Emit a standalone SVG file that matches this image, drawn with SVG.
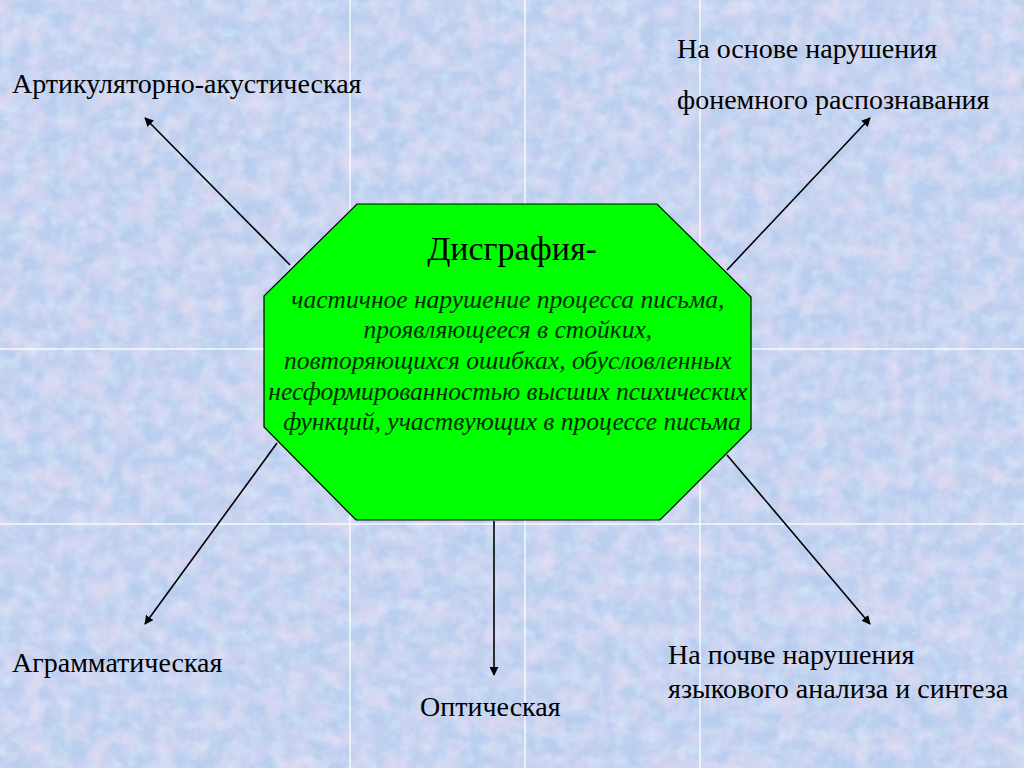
<svg xmlns="http://www.w3.org/2000/svg" width="1024" height="768" viewBox="0 0 1024 768">
<defs>
<style>
.lbl{font-family:"Liberation Serif","Times New Roman",serif;font-size:28px;fill:#000}
.title{font-family:"Liberation Serif","Times New Roman",serif;font-size:34px;fill:#000}
.def{font-family:"Liberation Serif","Times New Roman",serif;font-size:25.5px;font-style:italic;fill:#002a00}
.conn line{stroke:#000;stroke-width:1.6;marker-end:url(#ah)}
.tile{stroke:#ffffff;stroke-width:1.5;opacity:0.85}
</style>
<marker id="ah" viewBox="0 0 10 10" refX="9" refY="5" markerWidth="9" markerHeight="9" markerUnits="userSpaceOnUse" orient="auto">
<path d="M0,0 L10,5 L0,10 Z" fill="#000"/>
</marker>
<filter id="tex" x="0" y="0" width="100%" height="100%">
<feTurbulence type="fractalNoise" baseFrequency="0.045" numOctaves="5" seed="11" result="n"/>
<feColorMatrix in="n" type="matrix" values="0 0 0 0 0.86  0 0 0 0 0.72  0 0 0 0 0.9  1.2 0 0 0 -0.42" />
</filter>
<filter id="tex2" x="0" y="0" width="100%" height="100%">
<feTurbulence type="fractalNoise" baseFrequency="0.07" numOctaves="4" seed="3" result="n"/>
<feColorMatrix in="n" type="matrix" values="0 0 0 0 0.72  0 0 0 0 0.86  0 0 0 0 0.96  0 1.2 0 0 -0.45" />
</filter>
</defs>
<rect width="1024" height="768" fill="#b9cdee"/>
<rect width="1024" height="768" filter="url(#tex2)"/>
<rect width="1024" height="768" filter="url(#tex)"/>
<g id="tiles">
<line class="tile" x1="350" y1="0" x2="350" y2="768"/>
<line class="tile" x1="525" y1="0" x2="525" y2="768"/>
<line class="tile" x1="700" y1="0" x2="700" y2="768"/>
<line class="tile" x1="0" y1="349" x2="1024" y2="349"/>
<line class="tile" x1="0" y1="524" x2="1024" y2="524"/>
</g>
<g id="connectors" class="conn">
<line x1="290" y1="265" x2="145" y2="118"/>
<line x1="727" y1="270" x2="870" y2="118"/>
<line x1="277" y1="443" x2="145" y2="624"/>
<line x1="494" y1="521" x2="494" y2="675"/>
<line x1="727" y1="455" x2="870" y2="624"/>
</g>
<g id="center">
<polygon points="357,204 657,204 751,297 751,429 660,520 356,520 264,427 264,296" fill="#00ff00" stroke="#000" stroke-width="1.2"/>
<text class="title" x="512" y="260" text-anchor="middle">Дисграфия-</text>
<text class="def" text-anchor="middle">
<tspan x="511" y="308">частичное нарушение процесса письма,</tspan>
<tspan x="511" y="338">проявляющееся в стойких,</tspan>
<tspan x="511" y="369">повторяющихся ошибках, обусловленных</tspan>
<tspan x="511" y="400">несформированностью высших психических</tspan>
<tspan x="512" y="430">функций, участвующих в процессе письма</tspan>
</text>
</g>
<g id="n-artic"><text class="lbl" x="12" y="93">Артикуляторно-акустическая</text></g>
<g id="n-phon"><text class="lbl" x="677" y="58">На основе нарушения</text><text class="lbl" x="677" y="109">фонемного распознавания</text></g>
<g id="n-agram"><text class="lbl" x="12" y="672">Аграмматическая</text></g>
<g id="n-opt"><text class="lbl" x="420" y="716">Оптическая</text></g>
<g id="n-lang"><text class="lbl" x="668" y="664">На почве нарушения</text><text class="lbl" x="668" y="698">языкового анализа и синтеза</text></g>
</svg>
